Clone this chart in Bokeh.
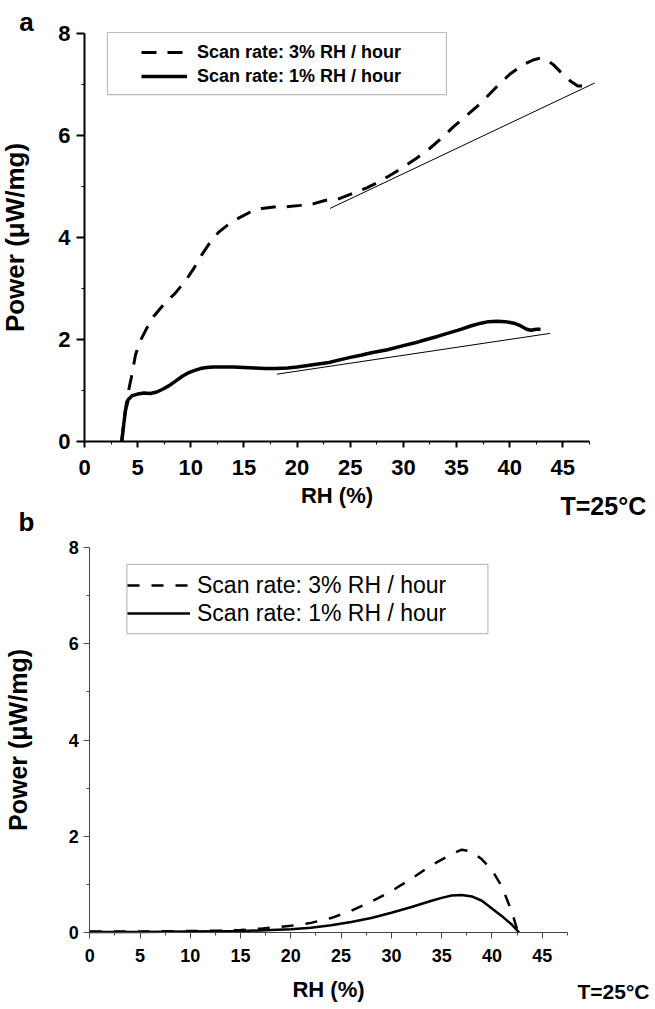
from bokeh.plotting import figure
from bokeh.models import (Range1d, FixedTicker, Legend, LegendItem, Label,
                          BoxAnnotation, LinearAxis)
from bokeh.layouts import column
from bokeh.embed import file_html
from bokeh.resources import INLINE

# ---------------- data: panel a ----------------
a_rh_3 = [3.5, 3.8, 4.1, 4.4, 4.8, 5.2, 5.8, 6.5, 7.5, 8.5, 9.5, 10.3, 11.0, 11.8, 12.6,
          13.5, 14.5, 15.6, 16.7, 17.8, 19.0, 20.3, 21.5, 22.7, 23.8, 25.3, 26.5, 27.8,
          29.0, 30.0, 31.2, 32.5, 33.6, 34.7, 36.0, 37.3, 38.8, 40.0, 41.3, 42.2, 42.9,
          43.5, 44.1, 45.0, 45.7, 46.4, 46.9]
a_pw_3 = [0.0, 0.55, 0.95, 1.25, 1.7, 1.95, 2.2, 2.45, 2.7, 2.9, 3.15, 3.4, 3.65, 3.9, 4.1,
          4.25, 4.38, 4.5, 4.57, 4.6, 4.6, 4.63, 4.66, 4.73, 4.75, 4.87, 4.97, 5.1,
          5.25, 5.38, 5.55, 5.75, 5.95, 6.17, 6.4, 6.64, 6.96, 7.2, 7.39, 7.48, 7.52,
          7.48, 7.39, 7.2, 7.07, 6.97, 6.97]
a_rh_1 = [3.5, 3.7, 3.85, 4.1, 4.5, 5.0, 5.6, 6.2, 6.8, 7.4, 8.0, 8.6, 9.2, 9.7, 10.3, 10.9,
          11.5, 12.1, 13.0, 14.0, 15.0, 16.0, 17.0, 18.0, 19.1, 20.0, 21.0, 22.0, 23.0,
          24.0, 25.0, 26.0, 27.0, 28.5, 30.0, 31.0, 32.0, 33.2, 34.3, 35.4, 36.4, 37.3,
          38.0, 38.8, 39.6, 40.4, 41.0, 41.6, 42.0, 42.5, 42.9]
a_pw_1 = [0.0, 0.35, 0.6, 0.82, 0.9, 0.93, 0.95, 0.94, 0.97, 1.03, 1.1, 1.19, 1.28, 1.34,
          1.39, 1.43, 1.45, 1.46, 1.46, 1.46, 1.45, 1.44, 1.43, 1.43, 1.44, 1.46, 1.49,
          1.52, 1.55, 1.6, 1.65, 1.69, 1.74, 1.8, 1.88, 1.93, 1.99, 2.06, 2.13, 2.2, 2.27,
          2.32, 2.35, 2.36, 2.35, 2.32, 2.27, 2.2, 2.18, 2.2, 2.2]
a_base3_rh = [23.1, 48.0]
a_base3_pw = [4.57, 7.03]
a_base1_rh = [18.1, 43.8]
a_base1_pw = [1.32, 2.12]

# ---------------- data: panel b ----------------
b_rh_3 = [0, 5, 10, 13, 15, 17, 19, 20, 22, 24, 26, 28, 30, 32, 34, 36, 37, 38, 39, 40,
          41, 42, 42.6]
b_pw_3 = [0.02, 0.02, 0.03, 0.04, 0.05, 0.08, 0.12, 0.14, 0.2, 0.3, 0.45, 0.64, 0.86,
          1.12, 1.4, 1.63, 1.72, 1.68, 1.52, 1.3, 0.95, 0.42, 0.0]
b_rh_1 = [0, 5, 10, 15, 18, 20, 22, 24, 26, 28, 30, 32, 34, 35, 36, 37, 38, 39, 40, 41,
          42, 42.7]
b_pw_1 = [0.01, 0.01, 0.02, 0.03, 0.05, 0.07, 0.1, 0.15, 0.22, 0.3, 0.41, 0.53, 0.66,
          0.72, 0.77, 0.78, 0.75, 0.66, 0.5, 0.34, 0.16, 0.0]

x_ticks = [0, 5, 10, 15, 20, 25, 30, 35, 40, 45]
x_minor = [2.5, 7.5, 12.5, 17.5, 22.5, 27.5, 32.5, 37.5, 42.5, 47.5]
y_ticks = [0, 2, 4, 6, 8]
y_minor = [1, 3, 5, 7]
x_span = (0, 47.5)
y_span = (0, 8)
label_3 = "Scan rate: 3% RH / hour"
label_1 = "Scan rate: 1% RH / hour"
y_title = "Power (\u03bcW/mg)"
x_title = "RH (%)"
temp_note = "T=25\u00b0C"

FONT = "Liberation Sans"
TEXT_SHIFT = 10  # observed downward shift of alphabetic-baseline labels


def make_fig(width, height, x0_px, x_ppu, y0_px, y_ppu):
    """Frame covers the whole canvas; axes sit at fixed data positions."""
    xr = Range1d(-x0_px / x_ppu, (width - x0_px) / x_ppu)
    yr = Range1d((y0_px - height) / y_ppu, y0_px / y_ppu)
    p = figure(width=width, height=height, x_range=xr, y_range=yr,
               x_axis_location=None, y_axis_location=None,
               min_border=0, min_border_left=0, min_border_right=0,
               min_border_top=0, min_border_bottom=0,
               output_backend="svg", toolbar_location=None)
    p.grid.visible = False
    p.outline_line_color = None
    return p


def add_axes(p, tick_px, lw, col, ylen, xlen, minor_len, xstand, ystand,
             ylab_px, xlab_px, xlab_style, ylstand, xlstand):
    xa = LinearAxis(fixed_location=0, bounds=x_span,
                    ticker=FixedTicker(ticks=x_ticks, minor_ticks=x_minor))
    ya = LinearAxis(fixed_location=0, bounds=y_span,
                    ticker=FixedTicker(ticks=y_ticks, minor_ticks=y_minor))
    for ax in (xa, ya):
        ax.axis_line_color = col
        ax.axis_line_width = lw
        ax.major_tick_line_color = col
        ax.minor_tick_line_color = col
        ax.major_tick_line_width = lw
        ax.minor_tick_line_width = 1
        ax.major_tick_in = 0
        ax.minor_tick_in = 0
        ax.minor_tick_out = minor_len
        ax.major_label_text_font = FONT
        ax.major_label_text_font_style = "bold"
        ax.major_label_text_font_size = tick_px
        ax.major_label_text_color = "black"
        ax.axis_label_text_font = FONT
        ax.axis_label_text_color = "black"
    ya.major_tick_out = ylen
    xa.major_tick_out = xlen
    xa.major_label_standoff = xstand
    ya.major_label_standoff = ystand
    ya.axis_label = y_title
    ya.axis_label_text_font_size = ylab_px
    ya.axis_label_text_font_style = "bold"
    ya.axis_label_standoff = ylstand
    xa.axis_label = x_title
    xa.axis_label_text_font_size = xlab_px
    xa.axis_label_text_font_style = xlab_style
    xa.axis_label_standoff = xlstand
    p.add_layout(xa, "below")
    p.add_layout(ya, "left")


def screen_label(p, height, x, baseline_px, text, size, align="left"):
    """Place a label by its baseline, in pixels from the canvas top."""
    p.add_layout(Label(x=x, y=height - baseline_px + TEXT_SHIFT,
                       x_units="screen", y_units="screen", text=text,
                       text_font=FONT, text_font_style="bold", text_font_size=size,
                       text_align=align, text_baseline="alphabetic",
                       text_color="black"))


# ---------------- panel a ----------------
H1 = 537
p1 = make_fig(650, H1, 84, 10.63, 441, 51.0)
add_axes(p1, "22px", 2, "black", 8, 6, 3, 12, 6, "26px", "22px", "bold", 25, 5)

ra3 = p1.line(a_rh_3, a_pw_3, line_color="black", line_width=3, line_dash="15 11")
ra1 = p1.line(a_rh_1, a_pw_1, line_color="black", line_width=3.5)
p1.line(a_base3_rh, a_base3_pw, line_color="black", line_width=1)
p1.line(a_base1_rh, a_base1_pw, line_color="black", line_width=1)

p1.add_layout(BoxAnnotation(left=2.16, right=34.05, bottom=6.8, top=8.02,
                            fill_alpha=0, line_color="#222222", line_width=1.2))
leg1 = Legend(items=[LegendItem(label=label_3, renderers=[ra3]),
                     LegendItem(label=label_1, renderers=[ra1])],
              location=(141, H1 - 88), padding=0, spacing=0, margin=0,
              glyph_width=46, glyph_height=24, label_height=24, label_standoff=10,
              border_line_color=None, background_fill_alpha=0,
              label_text_font=FONT, label_text_font_style="bold",
              label_text_font_size="18px", label_text_color="black")
p1.add_layout(leg1)
screen_label(p1, H1, 26, 31, "a", "26px", "center")
screen_label(p1, H1, 560, 515, temp_note, "25px")
screen_label(p1, H1, 26, 531, "b", "26px", "center")

# ---------------- panel b ----------------
H2 = 468
p2 = make_fig(650, H2, 89.3, 10.053, 932 - H1, 48.125)
add_axes(p2, "18px", 1, "#444444", 6, 6, 3, 10, 5, "25px", "22px", "bold", 33, 12)

rb3 = p2.line(b_rh_3, b_pw_3, line_color="black", line_width=2.5, line_dash="12 12")
rb1 = p2.line(b_rh_1, b_pw_1, line_color="black", line_width=2.5)

p2.add_layout(BoxAnnotation(left=3.69, right=39.6, bottom=6.21, top=7.65,
                            fill_alpha=0, line_color="#222222", line_width=1.2))
leg2 = Legend(items=[LegendItem(label=label_3, renderers=[rb3]),
                     LegendItem(label=label_1, renderers=[rb1])],
              location=(127, H2 - (627 - H1)), padding=0, spacing=0, margin=0,
              glyph_width=63, glyph_height=28, label_height=28, label_standoff=7,
              border_line_color=None, background_fill_alpha=0,
              label_text_font=FONT, label_text_font_style="normal",
              label_text_font_size="23px", label_text_color="black")
p2.add_layout(leg2)
screen_label(p2, H2, 577, 1001 - H1, temp_note, "21px")

layout = column(p1, p2, spacing=0)
open("out.html", "w").write(file_html(layout, INLINE))
